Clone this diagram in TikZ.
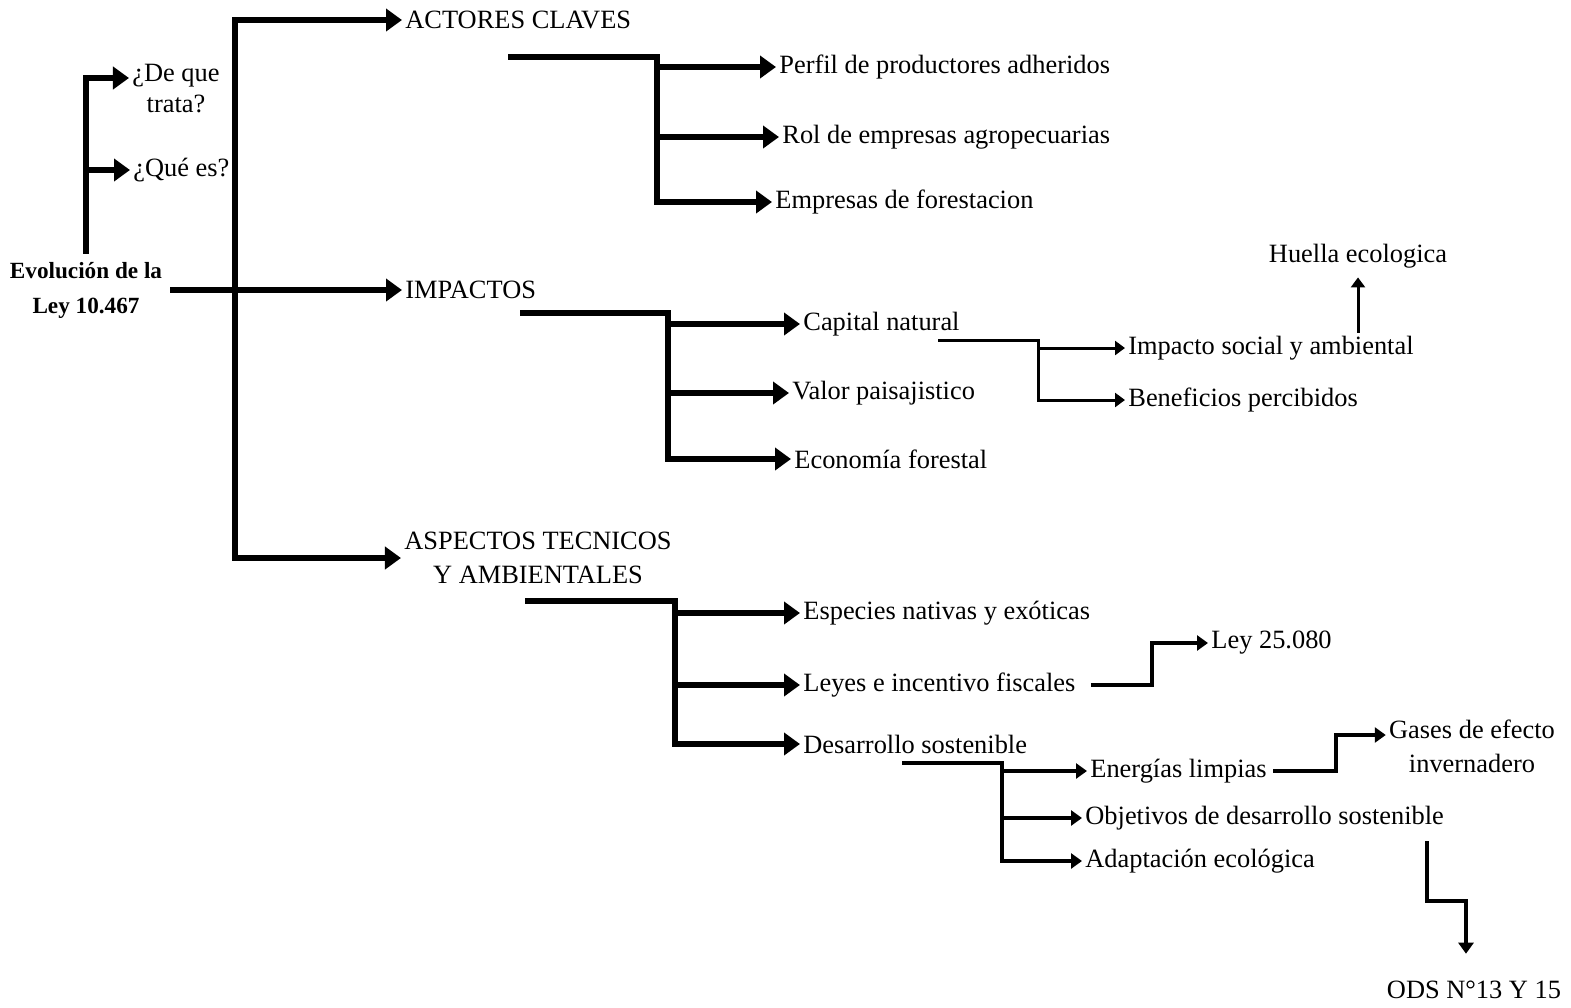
\documentclass[tikz,border=0pt]{standalone}
\usepackage{fontspec}
\setmainfont{Liberation Serif}
\usetikzlibrary{arrows.meta}
\usetikzlibrary{calc}

\begin{document}
\begin{tikzpicture}
[
x=0.5pt, y=-0.5pt,
tx/.style={font=\fontsize{13.2}{17}\selectfont, inner sep=1.5pt, align=center},
txw/.style={tx, anchor=west},
tit/.style={font=\fontsize{11.6}{17.5}\selectfont\bfseries, inner sep=4pt, align=center},
lg/.style={line width=2.6pt},
ag/.style={lg, -{Triangle[length=8pt,width=11pt]}},
lm/.style={line width=1.9pt},
am/.style={lm, -{Triangle[length=5.5pt,width=7.5pt]}},
lf/.style={line width=1.5pt},
af/.style={lf, -{Triangle[length=5pt,width=7pt]}}
]
\useasboundingbox (0,0) rectangle (1571,1008);

% raiz
\node[tit] (ley) at (86,290) {Evolución de la\\Ley 10.467};
\node[tx, font=\fontsize{13.2}{15.5}\selectfont] (trata) at (176,89) {¿De que\\trata?};
\node[txw] (quees) at (130,170) {¿Qué es?};

\draw[ag] (ley.north) |- ([yshift=5.5pt]trata.west);
\draw[ag] (ley.north |- quees.west) -- (quees.west);

% tronco
\coordinate (tronco) at (235,290);
\node[txw] (actores) at (402,20) {ACTORES CLAVES};
\node[txw] (impactos) at (402,290) {IMPACTOS};
\node[tx] (aspectos) at (538,558) {ASPECTOS TECNICOS\\Y AMBIENTALES};

\draw[ag] (ley.east) -- (impactos.west);
\draw[ag] (tronco) |- (actores.west);
\draw[ag] (tronco) |- (aspectos.west);

% actores claves
\coordinate (actA) at (508,57);
\coordinate (actJ) at (657,57);
\node[txw] (perfil) at (776,67) {Perfil de productores adheridos};
\node[txw] (rol) at (779,137) {Rol de empresas agropecuarias};
\node[txw] (forest) at (772,202) {Empresas de forestacion};

\draw[ag] (actA) -- (actJ) |- (forest.west);
\draw[ag] (actJ |- perfil.west) -- (perfil.west);
\draw[ag] (actJ |- rol.west) -- (rol.west);

% impactos
\coordinate (impA) at (520,313);
\coordinate (impJ) at (668,313);
\node[txw] (capital) at (800,324) {Capital natural};
\node[txw] (valor) at (789,393) {Valor paisajistico};
\node[txw] (econ) at (791,459) {Economía forestal};

\draw[ag] (impA) -- (impJ) |- (econ.west);
\draw[ag] (impJ |- capital.west) -- (capital.west);
\draw[ag] (impJ |- valor.west) -- (valor.west);

% capital natural
\coordinate (capA) at (938,340);
\coordinate (capJ) at (1038,340);
\node[txw] (social) at (1125,348) {Impacto social y ambiental};
\node[txw] (benef) at (1125,400) {Beneficios percibidos};
\node[tx] (huella) at (1358,256) {Huella ecologica};

\draw[af] (capA) -- (capJ) |- (benef.west);
\draw[af] (capJ |- social.west) -- (social.west);
\draw[af] (social.north -| huella.south) -- ([yshift=-3pt]huella.south);

% aspectos tecnicos
\coordinate (aspA) at (525,601);
\coordinate (aspJ) at (675,601);
\node[txw] (especies) at (800,613) {Especies nativas y exóticas};
\node[txw] (leyes) at (800,685) {Leyes e incentivo fiscales};
\node[txw] (desarrollo) at (800,744) {Desarrollo sostenible};

\draw[ag] (aspA) -- (aspJ) |- (desarrollo.west);
\draw[ag] (aspJ |- especies.west) -- (especies.west);
\draw[ag] (aspJ |- leyes.west) -- (leyes.west);

% leyes
\node[txw] (ley25) at (1208,643) {Ley 25.080};
\draw[am] ([xshift=6pt]leyes.east) -- ++(61,0) |- (ley25.west);

% desarrollo sostenible
\coordinate (desA) at (902,763);
\coordinate (desJ) at (1002,763);
\node[txw] (energias) at (1087,771) {Energías limpias};
\node[txw] (objetivos) at (1082,818) {Objetivos de desarrollo sostenible};
\node[txw] (adapt) at (1082,861) {Adaptación ecológica};

\draw[am] (desA) -- (desJ) |- (adapt.west);
\draw[am] (desJ |- energias.west) -- (energias.west);
\draw[am] (desJ |- objetivos.west) -- (objetivos.west);

% energias y objetivos
\node[tx] (gases) at (1472,746) {Gases de efecto\\invernadero};
\node[tx] (ods) at (1474,990) {ODS N°13 Y 15};

\draw[am] ([xshift=1.5pt]energias.east) -- ++(63,0) |- ([yshift=5.5pt]gases.west);
\draw[am] ([xshift=-10pt,yshift=-4pt]objetivos.south east) -- ++(0,60) -| ([xshift=-4pt,yshift=12pt]ods.north);
\end{tikzpicture}
\end{document}
